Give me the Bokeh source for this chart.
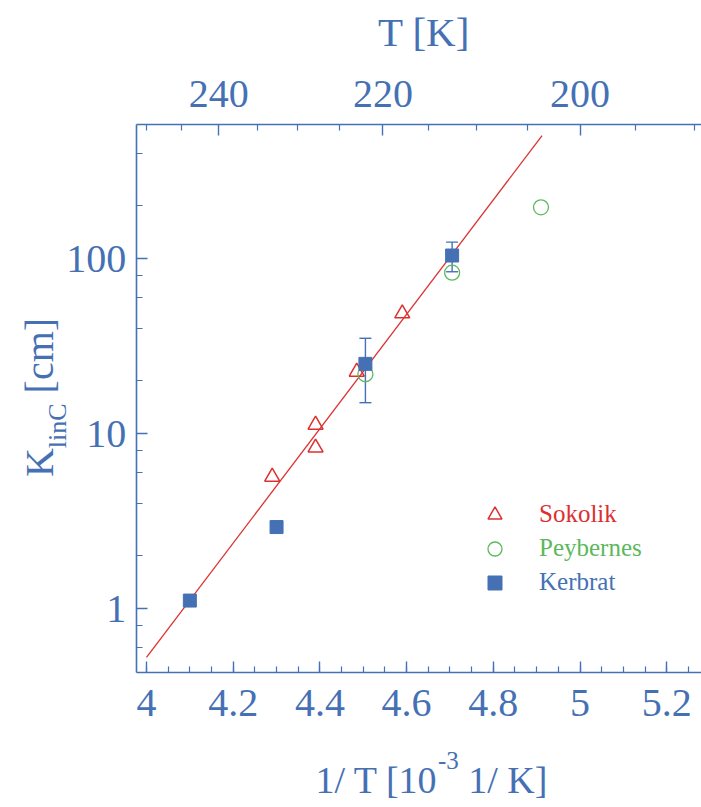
import math
from bokeh.plotting import figure
from bokeh.models import (Range1d, LinearAxis, FixedTicker, NumeralTickFormatter,
                          CustomJSTickFormatter, Label, Legend, LegendItem, Whisker,
                          TeeHead, ColumnDataSource)
from bokeh.embed import file_html
from bokeh.resources import INLINE

# ---------------- data ----------------
sok_x = [4.29, 4.39, 4.39, 4.485, 4.59]
sok_y = [5.65, 11.2, 8.3, 22.5, 48.5]

pey_x = [4.505, 4.705, 4.91]
pey_y = [21.8, 83.0, 196.0]

ker_x = [4.10, 4.30, 4.505, 4.705]
ker_y = [1.11, 2.92, 25.0, 104.0]

err_x = [4.505, 4.705]
err_lo = [15.0, 84.0]
err_hi = [35.0, 124.0]

fit_x = [4.0, 4.9125]
fit_y = [0.525, 504.0]

bottom_major = [4.0, 4.2, 4.4, 4.6, 4.8, 5.0, 5.2]
bottom_minor = [round(4.0 + 0.05 * i, 2) for i in range(27)]
top_major_T = [240, 220, 200]
top_minor_T = [250, 245, 235, 230, 225, 215, 210, 205, 195, 190]
left_major = [1, 10, 100]
left_minor = [0.6, 0.8, 2, 4, 6, 8, 20, 40, 60, 80, 200, 400]

BLUE = "#4571b4"
RED = "#dc3030"
GREEN = "#5cb85c"
FONT = "Liberation Serif"

# ---------------- page geometry (pixels of the canvas) ----------------
W, H = 701, 805
PX_X4, PX_PER_X = 146.0, 433.5      # pixel of x = 4, pixels per unit
PX_Y1, PX_PER_DEC = 608.0, 175.0    # pixel of y = 1, pixels per decade
FR_L, FR_T, FR_B = 135.7, 124.3, 672.0
BASE_SHIFT = 0.4                    # em shift of the rendered baseline

def xd(px):
    return 4.0 + (px - PX_X4) / PX_PER_X

def yd(py):
    return 10 ** ((PX_Y1 - py) / PX_PER_DEC)

p = figure(width=W, height=H, output_backend="svg", toolbar_location=None,
           y_axis_type="log",
           x_range=Range1d(xd(0), xd(W)), y_range=Range1d(yd(H), yd(0)),
           min_border_left=0, min_border_right=0, min_border_top=0,
           min_border_bottom=0)
p.outline_line_color = None
p.xgrid.visible = False
p.ygrid.visible = False
p.background_fill_color = "white"
p.border_fill_color = "white"

def style_axis(ax, major, minor, size="40px", standoff=10):
    ax.ticker = FixedTicker(ticks=major, minor_ticks=minor)
    ax.axis_line_color = BLUE
    ax.axis_line_width = 1.6
    ax.major_tick_line_color = BLUE
    ax.minor_tick_line_color = BLUE
    ax.major_tick_line_width = 1.4
    ax.minor_tick_line_width = 1.2
    ax.major_tick_in = 11
    ax.major_tick_out = 0
    ax.minor_tick_in = 6
    ax.minor_tick_out = 0
    ax.major_label_text_font = FONT
    ax.major_label_text_font_size = size
    ax.major_label_text_color = BLUE
    ax.major_label_standoff = standoff

xa = p.xaxis[0]
style_axis(xa, bottom_major, bottom_minor, standoff=17)
xa.formatter = CustomJSTickFormatter(code="return String(Math.round(tick*10)/10);")
xa.fixed_location = yd(FR_B)
xa.bounds = (xd(FR_L), xd(W))

ya = p.yaxis[0]
style_axis(ya, left_major, left_minor, standoff=10)
ya.formatter = NumeralTickFormatter(format="0")
ya.fixed_location = xd(FR_L)
ya.bounds = (yd(FR_B), yd(FR_T))

top = LinearAxis()
style_axis(top, [1000.0 / t for t in top_major_T], [1000.0 / t for t in top_minor_T], standoff=18)
top.formatter = CustomJSTickFormatter(code="return String(Math.round(1000/tick));")
top.fixed_location = yd(FR_T)
top.bounds = (xd(FR_L), xd(W))
p.add_layout(top, "above")

# ---------------- marks ----------------
p.line(fit_x, fit_y, line_color=RED, line_width=1.3)

wsrc = ColumnDataSource(dict(base=err_x, lower=err_lo, upper=err_hi))
p.add_layout(Whisker(source=wsrc, base="base", lower="lower", upper="upper",
                     dimension="height", line_color=BLUE, line_width=1.4,
                     upper_head=TeeHead(size=12, line_color=BLUE, line_width=1.4),
                     lower_head=TeeHead(size=12, line_color=BLUE, line_width=1.4)))

r_sok = p.scatter(sok_x, sok_y, marker="triangle", size=15, fill_color=None,
                  line_color=RED, line_width=1.5)
r_pey = p.scatter(pey_x, pey_y, marker="circle", size=15, fill_color=None,
                  line_color=GREEN, line_width=1.3)
r_ker = p.scatter(ker_x, ker_y, marker="square", size=13, fill_color=BLUE,
                  line_color=BLUE, line_width=1)

# ---------------- legends ----------------
def add_legend(label, rend, color, center_py):
    lg = Legend(items=[LegendItem(label=label, renderers=[rend])],
                location=(477, H - center_py - 17.5), orientation="vertical",
                glyph_width=35, glyph_height=35, label_height=35,
                label_standoff=27, padding=0, margin=0, spacing=0,
                border_line_color=None, background_fill_alpha=0,
                label_text_font=FONT, label_text_font_size="25px",
                label_text_color=color, label_text_baseline="middle")
    p.add_layout(lg)

add_legend("Sokolik", r_sok, RED, 514)
add_legend("Peybernes", r_pey, GREEN, 548)
add_legend("Kerbrat", r_ker, BLUE, 582)

# ---------------- axis titles ----------------
def lab(text, px, py, size, align="left", rotated=False):
    # px, py: wanted position of the baseline start (pixels)
    shift = BASE_SHIFT * size
    if rotated:
        px -= shift
    else:
        py -= shift
    p.add_layout(Label(x=xd(px), y=yd(py), text=text, text_font=FONT,
                       text_font_size=f"{size}px", text_color=BLUE,
                       text_align=align, text_baseline="alphabetic",
                       angle=math.pi / 2 if rotated else 0.0))

# top title
lab("T [K]", 423.5, 48, 41, align="center")

# bottom title: 1/ T [10^-3 1/ K]
lab("1/ T [10", 315, 795, 38)
lab("-3", 437.4, 770, 25)
lab("1/ K]", 467.7, 795, 38)

# left title: K_linC [cm] (rotated, reading upwards)
lab("K", 55, 476.6, 40, rotated=True)
lab("linC", 67, 447.7, 26, rotated=True)
lab("[cm]", 55, 392.9, 40, rotated=True)

open("out.html", "w").write(file_html(p, INLINE))
